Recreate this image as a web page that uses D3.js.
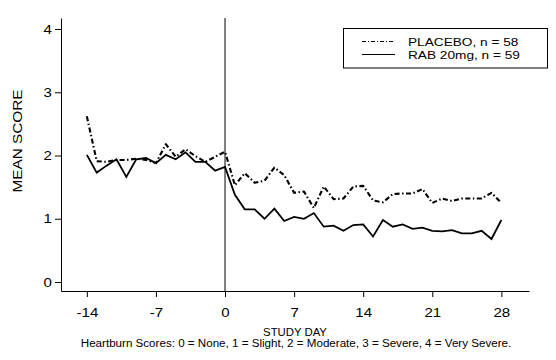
<!DOCTYPE html>
<html><head><meta charset="utf-8">
<script src="https://cdn.jsdelivr.net/npm/d3@7"></script>
<style>body{margin:0;background:#fff}svg{display:block;font-family:"Liberation Sans",Arial,sans-serif}</style>
</head><body>
<svg id="c" width="556" height="360"></svg>
<script>
const days = d3.range(-14, 29);
const placebo = [2.62,1.91,1.90,1.93,1.93,1.95,1.93,1.88,2.18,1.98,2.10,1.99,1.90,1.98,2.06,
  1.53,1.72,1.57,1.60,1.81,1.69,1.41,1.43,1.17,1.51,1.31,1.32,1.51,1.52,
  1.29,1.26,1.39,1.40,1.40,1.47,1.25,1.32,1.28,1.32,1.32,1.32,1.41,1.25];
const rab = [2.01,1.73,1.84,1.94,1.66,1.94,1.96,1.88,2.01,1.94,2.05,1.90,1.90,1.76,1.82,
  1.38,1.15,1.15,1.00,1.16,0.965,1.03,1.00,1.09,0.875,0.89,0.81,0.90,0.91,
  0.72,0.98,0.875,0.91,0.84,0.86,0.81,0.80,0.82,0.77,0.77,0.81,0.68,0.98];
const xTicks = [-14,-7,0,7,14,21,28];
const yTicks = [0,1,2,3,4];
const seriesNames = ["PLACEBO, n = 58","RAB 20mg, n = 59"];
const xLabel = "STUDY DAY";
const yLabel = "MEAN SCORE";
const note = "Heartburn Scores: 0 = None, 1 = Slight, 2 = Moderate, 3 = Severe, 4 = Very Severe.";

const svg = d3.select("#c");
const x = d3.scaleLinear().domain([-16.62, 30.8]).range([61, 529]);
const y = d3.scaleLinear().domain([-0.142, 4.174]).range([291, 18]);
const fmt = d => String(d);

// widen glyphs horizontally (reference font is wider than Liberation Sans)
function stretch(sel, k) {
  sel.each(function(){
    const L = this.getComputedTextLength();
    d3.select(this).attr("textLength", L*k).attr("lengthAdjust","spacingAndGlyphs");
  });
}

const xAxis = svg.append("g").attr("transform","translate(0,291)")
  .call(d3.axisBottom(x).tickValues(xTicks).tickFormat(fmt).tickSize(6).tickPadding(10).tickSizeOuter(0));
const yAxis = svg.append("g").attr("transform","translate(61,0)")
  .call(d3.axisLeft(y).tickValues(yTicks).tickFormat(fmt).tickSize(6).tickPadding(3).tickSizeOuter(0));
[xAxis,yAxis].forEach(g=>{
  g.attr("font-family",null).attr("font-size",null);
  g.select(".domain").attr("stroke","#000").attr("stroke-width",1);
  g.selectAll(".tick line").attr("stroke","#000");
  g.selectAll(".tick text").attr("fill","#000").style("font-size","13px");
  stretch(g.selectAll(".tick text"), 1.16);
});
xAxis.selectAll(".tick text").attr("dy","0.75em");

// vertical line at day 0
svg.append("line").attr("x1",x(0)).attr("x2",x(0)).attr("y1",y.range()[1]).attr("y2",y.range()[0])
  .attr("stroke","#000").attr("stroke-width",1);

const line = d3.line().x((d,i)=>x(days[i])).y(d=>y(d));
svg.append("path").datum(placebo).attr("d",line).attr("fill","none").attr("stroke","#000")
  .attr("stroke-width",2.1).attr("stroke-dasharray","5,2.5,1.5,2.5").attr("stroke-linejoin","round");
svg.append("path").datum(rab).attr("d",line).attr("fill","none").attr("stroke","#000")
  .attr("stroke-width",1.8).attr("stroke-linejoin","miter");

// legend
const lg = svg.append("g");
lg.append("rect").attr("x",343.5).attr("y",28.5).attr("width",204).attr("height",39.5)
  .attr("fill","#fff").attr("stroke","#000").attr("stroke-width",1);
const legY = [41.5, 54.5];
lg.append("line").attr("x1",362).attr("x2",395).attr("y1",legY[0]).attr("y2",legY[0])
  .attr("stroke","#000").attr("stroke-width",1).attr("stroke-dasharray","4,2,1,2");
lg.append("line").attr("x1",362).attr("x2",395).attr("y1",legY[1]).attr("y2",legY[1])
  .attr("stroke","#000").attr("stroke-width",1);
const lt = lg.selectAll("text.leg").data(seriesNames).join("text").attr("class","leg")
  .attr("x",408).attr("y",(d,i)=>legY[i]+4.2).text(d=>d).style("font-size","11.2px").attr("fill","#000");
stretch(lt, 1.22);

const yl = svg.append("text").attr("transform","translate(22,141) rotate(-90)").attr("text-anchor","middle")
  .style("font-size","13px").text(yLabel);
stretch(yl, 1.18);
const xl = svg.append("text").attr("x",295).attr("y",335.7).attr("text-anchor","middle").style("font-size","10.5px").text(xLabel);
stretch(xl, 1.08);
const nt = svg.append("text").attr("x",296).attr("y",346.6).attr("text-anchor","middle").style("font-size","10px").text(note);
stretch(nt, 1.16);
</script>
</body></html>
